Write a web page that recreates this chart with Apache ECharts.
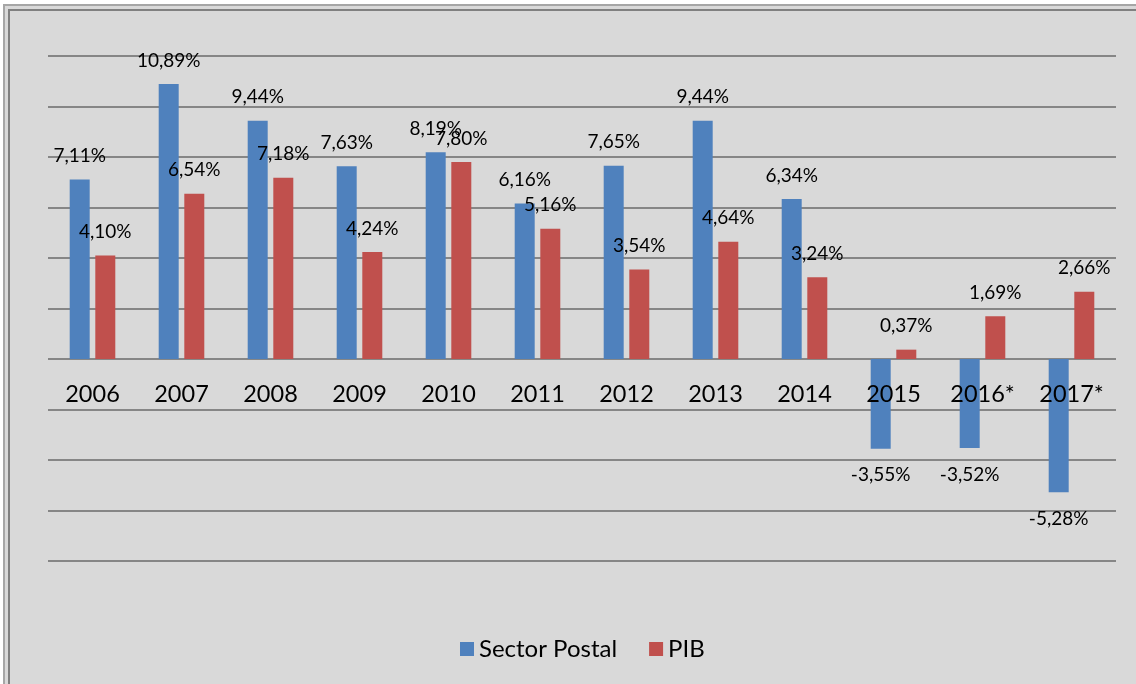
<!DOCTYPE html>
<html lang="es">
<head>
    <meta charset="UTF-8">
    <title>Sector Postal vs PIB</title>
    <script src="https://cdn.jsdelivr.net/npm/echarts@6/dist/echarts.min.js"></script>
    <style>
        body {
            margin: 0;
            background: #ffffff;
            overflow: hidden;
        }

        /* marco doble del grafico (se sale por la derecha y por abajo) */
        .outer {
            position: absolute;
            left: 3px;
            top: 4px;
            width: 1200px;
            height: 750px;
            border-left: 2px solid #a6a6a6;
            border-top: 2px solid #a6a6a6;
            background: #d9d9d9;
        }

        .inner {
            position: absolute;
            left: 8px;
            top: 9px;
            width: 1200px;
            height: 750px;
            border-left: 2px solid #808080;
            border-top: 2px solid #808080;
        }

        #chart {
            position: absolute;
            left: 0;
            top: 0;
            width: 1136px;
            height: 684px;
        }
    </style>
</head>
<body>
    <div class="outer"></div>
    <div class="inner"></div>
    <div id="chart"></div>

    <script>
        var years = ['2006', '2007', '2008', '2009', '2010', '2011', '2012', '2013', '2014', '2015', '2016*', '2017*'];
        var postal = [7.11, 10.89, 9.44, 7.63, 8.19, 6.16, 7.65, 9.44, 6.34, -3.55, -3.52, -5.28];
        var pib = [4.10, 6.54, 7.18, 4.24, 7.80, 5.16, 3.54, 4.64, 3.24, 0.37, 1.69, 2.66];
        var seriesNames = ['Sector Postal', 'PIB'];

        var font = 'Lato, "Liberation Sans", sans-serif';

        // etiqueta arriba si es positivo, abajo si es negativo
        function withLabels(arr) {
            return arr.map(function (v) {
                return {
                    value: v,
                    label: v < 0 ? { position: 'bottom', distance: 17 } : { position: 'top', distance: 14 }
                };
            });
        }

        var labelStyle = {
            show: true,
            color: '#000',
            fontFamily: font,
            fontSize: 19,
            lineHeight: 19,
            formatter: function (p) {
                return p.value.toFixed(2).replace('.', ',') + '%';
            }
        };

        var chart = echarts.init(document.getElementById('chart'));
        var option = {
            backgroundColor: 'transparent',
            animation: false,
            grid: { left: 48, right: 20, top: 56, bottom: 123 },
            legend: {
                data: seriesNames,
                left: 455,
                top: 632,
                itemWidth: 14,
                itemHeight: 14,
                itemGap: 32,
                icon: 'rect',
                textStyle: { color: '#000', fontFamily: font, fontSize: 24 }
            },
            xAxis: {
                type: 'category',
                data: years,
                z: 5, // las etiquetas van encima de las barras
                // eje en el cero: (-8..12) -> el 0 queda 202 px por encima del borde inferior
                position: 'bottom',
                offset: -202,
                axisLine: { show: false, onZero: false },
                axisTick: { show: false },
                axisLabel: {
                    interval: 0,
                    margin: 24,
                    color: '#000',
                    fontFamily: font,
                    fontSize: 23.5,
                    lineHeight: 23
                }
            },
            yAxis: {
                type: 'value',
                min: -8,
                max: 12,
                interval: 2,
                axisLabel: { show: false },
                axisLine: { show: false },
                axisTick: { show: false },
                splitLine: { lineStyle: { color: '#868686', width: 2 } }
            },
            series: [
                {
                    name: seriesNames[0],
                    type: 'bar',
                    barWidth: 20,
                    barGap: '28%',
                    itemStyle: { color: '#4f81bd' },
                    label: labelStyle,
                    data: withLabels(postal)
                },
                {
                    name: seriesNames[1],
                    type: 'bar',
                    barWidth: 20,
                    itemStyle: { color: '#c0504d' },
                    label: labelStyle,
                    data: withLabels(pib)
                }
            ]
        };
        chart.setOption(option);
    </script>
</body>
</html>
